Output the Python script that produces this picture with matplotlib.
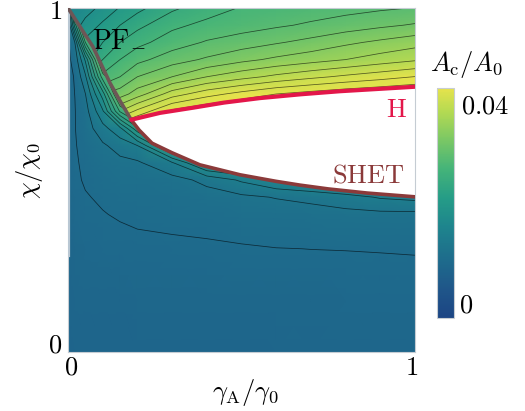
import numpy as np
import matplotlib
matplotlib.use("Agg")
import matplotlib.pyplot as plt
from matplotlib.colors import LinearSegmentedColormap, Normalize
from matplotlib.patches import Polygon
from matplotlib.cm import ScalarMappable

plt.rcParams['mathtext.fontset'] = 'cm'
plt.rcParams['font.family'] = ['DejaVu Serif']

# ---------------- data (A_c/A_0 in units of 1e-3) ----------------
# boundary curves (gamma_A/gamma_0, chi/chi_0)
pf_x = [0.0, 0.035, 0.072, 0.121, 0.150, 0.182]
pf_y = [1.0, 0.945, 0.887, 0.782, 0.730, 0.675]
shet_x = [0.182, 0.205, 0.242, 0.300, 0.380, 0.496, 0.600, 0.669, 0.750, 0.862, 1.0]
shet_y = [0.675, 0.645, 0.607, 0.579, 0.544, 0.515, 0.496, 0.485, 0.474, 0.462, 0.451]
h_x = [0.182, 0.265, 0.360, 0.450, 0.553, 0.670, 0.784, 0.900, 1.0]
h_y = [0.675, 0.695, 0.710, 0.725, 0.738, 0.749, 0.758, 0.765, 0.771]

# lower branch (below PF- / SHET)
low_x = [0, 0.02, 0.05, 0.1, 0.15, 0.2, 0.3, 0.4, 0.5, 0.6, 0.7, 0.8, 0.9, 1.0]
low_y = [0, 0.15, 0.3, 0.4, 0.45, 0.5, 0.55, 0.6, 0.65, 0.7, 0.75, 0.8, 0.85, 0.9, 0.95, 1.0]
low_z = [
    [8.4, 8.5, 8.5, 8.5, 8.5, 8.55, 8.6, 8.65, 8.7, 8.75, 8.75, 8.8, 8.8, 8.8],
    [8.6, 8.8, 8.8, 8.9, 8.9, 8.95, 9.05, 9.1, 9.15, 9.2, 9.2, 9.25, 9.3, 9.3],
    [8.9, 9.2, 9.3, 9.4, 9.45, 9.6, 9.75, 9.75, 9.85, 9.97, 10.01, 10.03, 10.06, 10.1],
    [9.1, 9.55, 9.75, 9.93, 10.15, 10.3, 10.35, 10.6, 10.9, 11.0, 11.2, 11.4, 11.5, 11.5],
    [9.2, 9.65, 9.9, 10.2, 10.5, 10.6, 10.75, 11.2, 11.6, 12.1, 12.5, 13.2, 14.2, 14.6],
    [9.3, 9.75, 10.15, 10.5, 10.9, 11.0, 11.3, 12.5, 14.3, 16.0, 17.0, 18.0, 18.0, 18.0],
    [9.35, 9.85, 10.25, 11.0, 11.5, 11.7, 13.8, 19.0, 20.0, 21.0, 22.0, 22.0, 22.0, 22.0],
    [9.4, 9.9, 10.5, 11.7, 12.8, 14.0, 22.0, 25.0, 25.0, 25.0, 26.0, 26.0, 26.0, 26.0],
    [9.45, 9.95, 10.97, 13.3, 15.5, 21.5, 28.0, 30.0, 30.0, 30.0, 30.0, 30.0, 30.0, 30.0],
    [9.5, 9.95, 11.2, 15.7, 24.3, 28.0, 30.0, 30.0, 30.0, 30.0, 30.0, 30.0, 30.0, 30.0],
    [9.55, 10.02, 11.95, 19.0, 30.0, 30.0, 30.0, 30.0, 30.0, 30.0, 30.0, 30.0, 30.0, 30.0],
    [9.6, 10.1, 13.6, 25.0, 30.0, 30.0, 30.0, 30.0, 30.0, 30.0, 30.0, 30.0, 30.0, 30.0],
    [9.6, 10.7, 16.3, 30.0, 30.0, 30.0, 30.0, 30.0, 30.0, 30.0, 30.0, 30.0, 30.0, 30.0],
    [9.6, 12.05, 24.0, 30.0, 30.0, 30.0, 30.0, 30.0, 30.0, 30.0, 30.0, 30.0, 30.0, 30.0],
    [9.6, 19.0, 30.0, 30.0, 30.0, 30.0, 30.0, 30.0, 30.0, 30.0, 30.0, 30.0, 30.0, 30.0],
    [10.0, 30.0, 30.0, 30.0, 30.0, 30.0, 30.0, 30.0, 30.0, 30.0, 30.0, 30.0, 30.0, 30.0],
]

# upper branch (above PF- / H)
up_x = [0, 0.05, 0.1, 0.15, 0.2, 0.3, 0.4, 0.5, 0.6, 0.7, 0.8, 0.9, 1.0]
up_y = [0.65, 0.7, 0.75, 0.8, 0.85, 0.9, 0.95, 1.0]
up_z = [
    [36, 38, 40, 42, 44, 45, 45, 45, 45, 45, 45, 45, 45],
    [30, 32, 34, 36, 38.5, 42.5, 44, 45, 45, 45, 45, 45, 45],
    [26, 28, 30, 31, 33, 37, 39.2, 40.7, 42, 42.8, 43.5, 44, 44.5],
    [22, 24, 26.5, 28, 30, 32, 34, 35.3, 36.5, 37.5, 38.4, 39.2, 40.05],
    [18, 21, 24, 26, 27.4, 29.1, 30.3, 31.45, 32.4, 33.2, 34, 34.9, 35.7],
    [17, 20.5, 22, 24, 25.4, 27, 28.2, 29, 29.8, 30.6, 31.6, 32.4, 33.2],
    [16.5, 18.6, 20.4, 22, 23.4, 25.55, 26.5, 27.1, 27.7, 28.3, 28.95, 29.6, 30.2],
    [16, 17.2, 18.5, 20.15, 21.4, 23.6, 25.1, 26.13, 26.5, 26.9, 27.3, 27.7, 28.06],
]

contour_levels = [10, 12, 14, 16, 18, 20, 22, 24, 26, 28, 30, 32, 34, 36, 38, 40, 42]
cbar_range = [0, 40]
cbar_labels = ['$0$', '$0.04$']
x_ticklabels = ['$0$', '$1$']
y_ticklabels = ['$0$', '$1$']
left_strip_y = [0.28, 1.0]

cmap_colors = [(0.00, '#1c4584'), (0.12, '#1f5589'), (0.25, '#1e6b8c'),
               (0.40, '#1e858d'), (0.52, '#259c87'), (0.65, '#45b479'),
               (0.78, '#7cc864'), (0.90, '#b5da52'), (1.00, '#e6e34c')]

# ---------------- figure ----------------
FS = 19
fig = plt.figure(figsize=(5.25, 4.11), dpi=100)
ax = fig.add_axes([0.1295, 0.1436, 0.661, 0.837])
cax = fig.add_axes([0.8324, 0.2263, 0.0324, 0.5596])

cmap = LinearSegmentedColormap.from_list('ac', cmap_colors)
norm = Normalize(cbar_range[0], cbar_range[1])

lower_pts = ([(0, 0), (1, 0)] + list(zip(shet_x[::-1], shet_y[::-1]))
             + list(zip(pf_x[::-1], pf_y[::-1])))
upper_pts = list(zip(pf_x, pf_y)) + list(zip(h_x, h_y)) + [(1, 1)]
lower_patch = Polygon(lower_pts, closed=True, fill=False, lw=0, transform=ax.transData)
upper_patch = Polygon(upper_pts, closed=True, fill=False, lw=0, transform=ax.transData)
ax.add_patch(lower_patch)
ax.add_patch(upper_patch)

for gx, gy, gz, patch in [(low_x, low_y, low_z, lower_patch),
                          (up_x, up_y, up_z, upper_patch)]:
    X, Y = np.meshgrid(gx, gy)
    Z = np.array(gz, dtype=float)
    m = ax.pcolormesh(X, Y, Z, shading='gouraud', cmap=cmap, norm=norm, zorder=1)
    m.set_clip_path(patch)
    cs = ax.contour(X, Y, Z, levels=contour_levels, colors='k',
                    linewidths=0.55, alpha=0.6, zorder=2)
    cs.set_clip_path(patch)

ax.plot([0.002, 0.002], left_strip_y, color='#b9c7d3', lw=1.6, zorder=3)

ax.plot(pf_x, pf_y, color='#6e5656', lw=2.6, solid_capstyle='round', zorder=4)
ax.plot(shet_x, shet_y, color='#8b3a3a', lw=2.6, solid_capstyle='round', zorder=4)
ax.plot(h_x, h_y, color='#e3174a', lw=3.0, solid_capstyle='round', zorder=5)

ax.text(0.069, 0.914, r'$\mathrm{PF}_{-}$', fontsize=FS + 1, ha='left', va='center')
ax.text(0.948, 0.705, r'$\mathrm{H}$', fontsize=FS, color='#e3174a', ha='center', va='center')
ax.text(0.971, 0.515, r'$\mathrm{SHET}$', fontsize=FS, color='#8b3a3a', ha='right', va='center')

ax.set_xlim(0, 1)
ax.set_ylim(0, 1)
ax.set_xticks([])
ax.set_yticks([])
for s in ax.spines.values():
    s.set_color('#c5ccd3')
    s.set_linewidth(0.8)

# tick labels placed at the axis ends
tk = dict(fontsize=FS, transform=ax.transAxes, va='center')
ax.text(-0.017, 0.991, y_ticklabels[1], ha='right', **tk)
ax.text(-0.017, 0.020, y_ticklabels[0], ha='right', **tk)
ax.text(0.010, -0.044, x_ticklabels[0], ha='center', **tk)
ax.text(0.991, -0.044, x_ticklabels[1], ha='center', **tk)

ax.text(0.51, -0.118, r'$\gamma_{\mathrm{A}}/\gamma_0$', fontsize=FS, transform=ax.transAxes,
        ha='center', va='center')
ax.text(-0.112, 0.526, r'$\chi/\chi_0$', fontsize=FS, transform=ax.transAxes,
        ha='center', va='center', rotation=90)

cb = fig.colorbar(ScalarMappable(norm=norm, cmap=cmap), cax=cax)
cb.set_ticks([])
cb.outline.set_edgecolor('#c8cdd2')
cb.outline.set_linewidth(0.8)
cax.text(1.4, 0.978, cbar_labels[1], fontsize=FS, transform=cax.transAxes, ha='left', va='top')
cax.text(1.3, 0.0, cbar_labels[0], fontsize=FS, transform=cax.transAxes, ha='left', va='bottom')
cax.text(1.76, 1.10, r'$A_{\mathrm{c}}/A_0$', fontsize=FS, transform=cax.transAxes,
         ha='center', va='center')

fig.savefig('out.png', dpi=100)
